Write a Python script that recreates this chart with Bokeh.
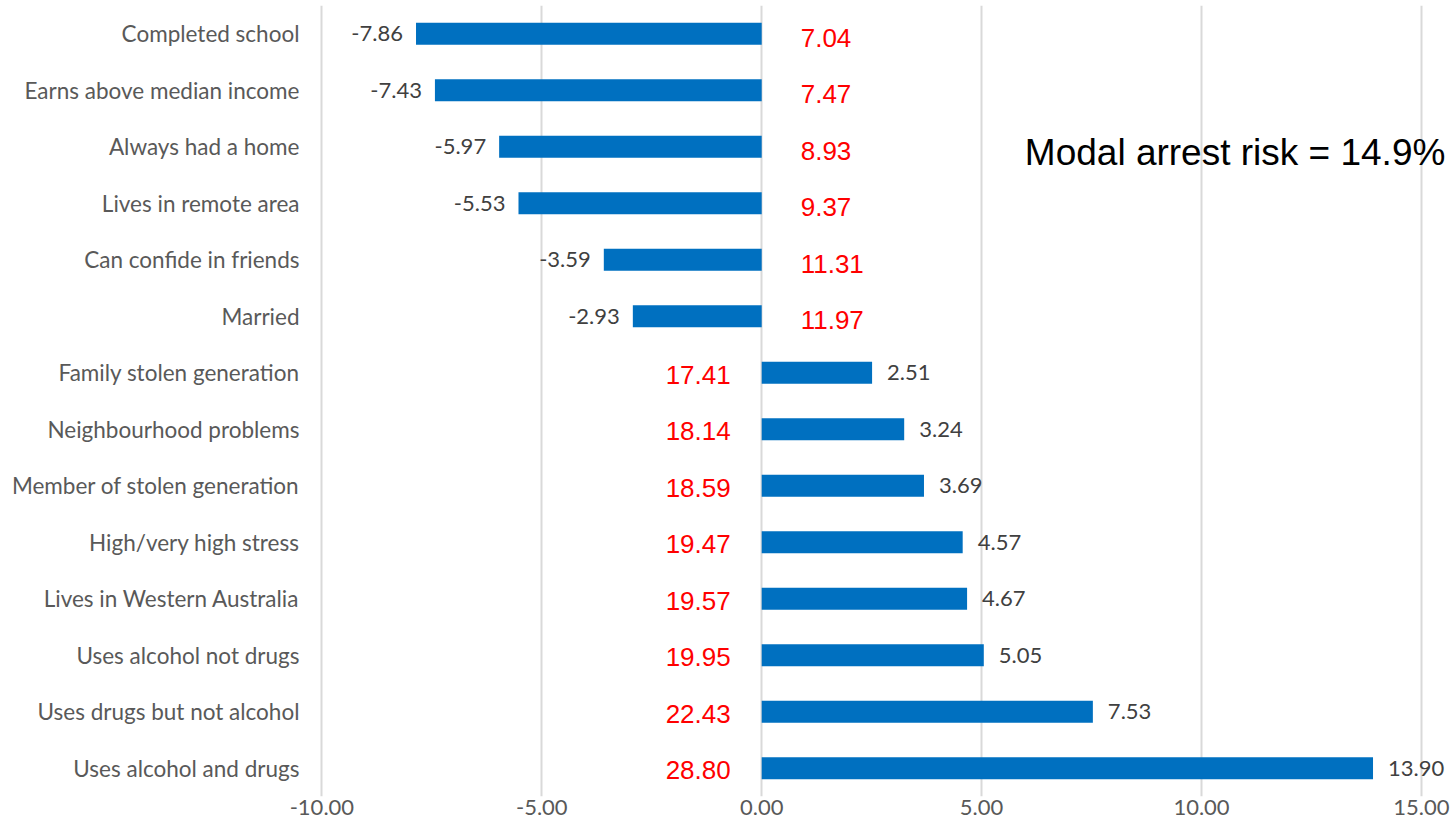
from bokeh.plotting import figure
from bokeh.models import FactorRange, Range1d, FixedTicker, ColumnDataSource, CustomJSTickFormatter
from bokeh.core.properties import value
from bokeh.embed import file_html
from bokeh.resources import INLINE

categories = ["Completed school", "Earns above median income", "Always had a home",
              "Lives in remote area", "Can confide in friends", "Married",
              "Family stolen generation", "Neighbourhood problems",
              "Member of stolen generation", "High/very high stress",
              "Lives in Western Australia", "Uses alcohol not drugs",
              "Uses drugs but not alcohol", "Uses alcohol and drugs"]
effects = [-7.86, -7.43, -5.97, -5.53, -3.59, -2.93, 2.51, 3.24, 3.69, 4.57,
           4.67, 5.05, 7.53, 13.90]
risks = [7.04, 7.47, 8.93, 9.37, 11.31, 11.97, 17.41, 18.14, 18.59, 19.47,
         19.57, 19.95, 22.43, 28.80]
x_ticks = [-10, -5, 0, 5, 10, 15]
modal_text = "Modal arrest risk = 14.9%"

FONT = "Lato"

p = figure(width=1453, height=838, output_backend="svg", toolbar_location=None,
           y_range=FactorRange(factors=categories[::-1]),
           x_range=Range1d(-10.1, 15.73),
           min_border_left=317, min_border_right=0,
           min_border_top=5, min_border_bottom=42)
p.outline_line_color = None
p.background_fill_color = "white"
p.border_fill_color = "white"

neg = [i for i, v in enumerate(effects) if v < 0]
pos = [i for i, v in enumerate(effects) if v >= 0]

src = ColumnDataSource(dict(cat=categories, eff=effects))
p.hbar(y="cat", left=0, right="eff", height=0.39, source=src,
       fill_color="#0070C0", line_color=None)

def sub(idx):
    return ColumnDataSource(dict(cat=[categories[i] for i in idx],
                                 eff=[effects[i] for i in idx],
                                 zero=[0] * len(idx),
                                 lab=["%.2f" % effects[i] for i in idx],
                                 risk=["%.2f" % risks[i] for i in idx]))

sn = sub(neg)
sp = sub(pos)

# value labels
p.text(x="eff", y="cat", text="lab", source=sn, text_align="right",
       text_baseline="middle", x_offset=-13, text_font=value(FONT),
       text_font_size="22px", text_color="#404040")
p.text(x="eff", y="cat", text="lab", source=sp, text_align="left",
       text_baseline="middle", x_offset=15, text_font=value(FONT),
       text_font_size="22px", text_color="#404040")

# risk labels
p.text(x="zero", y="cat", text="risk", source=sn, text_align="left",
       text_baseline="middle", x_offset=39, y_offset=4,
       text_font=value("Liberation Sans"), text_font_size="26px",
       text_color="#FF0000")
p.text(x="zero", y="cat", text="risk", source=sp, text_align="right",
       text_baseline="middle", x_offset=-31, y_offset=2,
       text_font=value("Liberation Sans"), text_font_size="26px",
       text_color="#FF0000")

p.text(x=[15.545], y=[categories[2]], text=[modal_text], text_align="right",
       text_baseline="middle", y_offset=6, text_font=value("Liberation Sans"),
       text_font_size="37px", text_color="black")

p.xaxis.ticker = FixedTicker(ticks=x_ticks)
p.xaxis.formatter = CustomJSTickFormatter(code="return tick.toFixed(2);")
p.xaxis.axis_line_color = None
p.xaxis.major_tick_line_color = None
p.xaxis.minor_tick_line_color = None
p.xaxis.major_tick_out = 0
p.xaxis.major_label_standoff = 3
p.xaxis.major_label_text_font = FONT
p.xaxis.major_label_text_font_size = "22px"
p.xaxis.major_label_text_color = "#595959"

p.yaxis.axis_line_color = None
p.yaxis.major_tick_line_color = None
p.yaxis.major_tick_out = 0
p.yaxis.major_label_standoff = 18
p.yaxis.major_label_text_font = FONT
p.yaxis.major_label_text_font_size = "22.5px"
p.yaxis.major_label_text_color = "#595959"

p.xgrid.ticker = FixedTicker(ticks=x_ticks)
p.xgrid.grid_line_color = "#D9D9D9"
p.xgrid.grid_line_width = 2
p.ygrid.grid_line_color = None

open("out.html", "w").write(file_html(p, INLINE))
